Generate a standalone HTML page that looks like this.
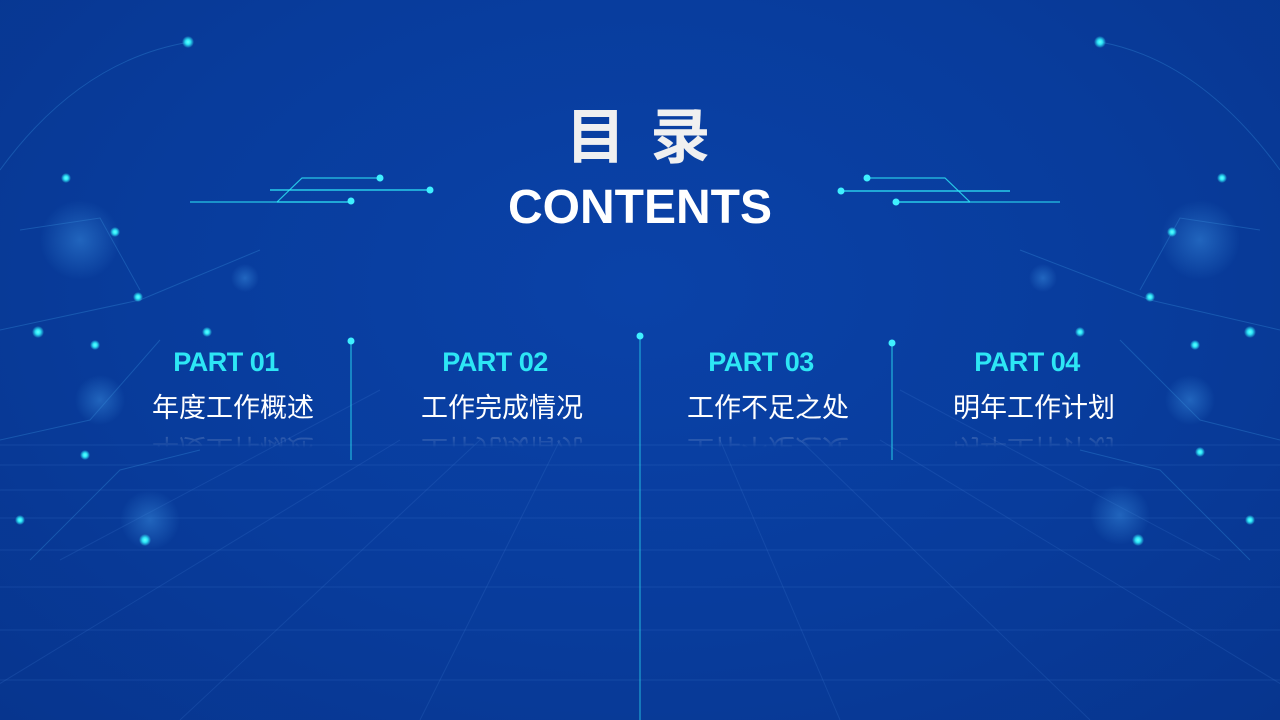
<!DOCTYPE html>
<html><head><meta charset="utf-8"><style>
html,body{margin:0;padding:0}
body{width:1280px;height:720px;overflow:hidden;position:relative;background:radial-gradient(ellipse at 50% 40%,#0a42a8 0%,#083c9c 55%,#07358e 100%);font-family:"Liberation Sans","Noto Sans CJK SC",sans-serif}
svg{position:absolute;left:0;top:0}
.t{position:absolute;color:#fff;font-weight:bold;text-align:center;width:400px;left:440px}
.col{position:absolute;width:260px;text-align:center}
.p{color:#2de6f5;font-weight:bold;font-size:27px;height:32px;line-height:32px;letter-spacing:-0.5px}
.c{color:#fff;font-size:27px;height:40px;line-height:40px;margin-top:10px}
.r{color:#fff;font-size:27px;height:20px;line-height:40px;overflow:hidden;transform:scaleY(-1);opacity:.3;-webkit-mask-image:linear-gradient(to top,rgba(0,0,0,1),rgba(0,0,0,0));mask-image:linear-gradient(to top,rgba(0,0,0,1),rgba(0,0,0,0));position:relative}
.r span{display:block;position:relative;top:-20px}
</style></head><body>
<svg width="1280" height="720">
<defs>
<radialGradient id="g"><stop offset="0" stop-color="#6ff"/><stop offset=".4" stop-color="#2ee8f8"/><stop offset="1" stop-color="#2ee8f8" stop-opacity="0"/></radialGradient>
<radialGradient id="b"><stop offset="0" stop-color="#3a8ee0" stop-opacity=".5"/><stop offset="1" stop-color="#3a8ee0" stop-opacity="0"/></radialGradient>
</defs>
<g stroke="#3f79d0" stroke-opacity=".22" stroke-width="1">
<line x1="0" y1="445" x2="1280" y2="445"/><line x1="0" y1="465" x2="1280" y2="465"/><line x1="0" y1="490" x2="1280" y2="490"/><line x1="0" y1="518" x2="1280" y2="518"/><line x1="0" y1="550" x2="1280" y2="550"/><line x1="0" y1="587" x2="1280" y2="587"/><line x1="0" y1="630" x2="1280" y2="630"/><line x1="0" y1="680" x2="1280" y2="680"/>
<line x1="560" y1="440" x2="420" y2="720"/><line x1="720" y1="440" x2="840" y2="720"/><line x1="480" y1="440" x2="180" y2="720"/><line x1="800" y1="440" x2="1090" y2="720"/><line x1="400" y1="440" x2="-60" y2="720"/><line x1="880" y1="440" x2="1340" y2="720"/>
<line x1="380" y1="390" x2="60" y2="560"/><line x1="900" y1="390" x2="1220" y2="560"/>
</g>
<g stroke="#3f9be6" stroke-opacity=".3" fill="none">
<path d="M0 170 Q80 60 190 42"/><path d="M1280 170 Q1200 60 1100 42"/>
<path d="M0 330 L140 300 L260 250"/><path d="M1280 330 L1150 300 L1020 250"/>
<path d="M20 230 L100 218 L140 290"/><path d="M1260 230 L1180 218 L1140 290"/>
<path d="M0 440 L90 420 L160 340"/><path d="M1280 440 L1200 420 L1120 340"/>
<path d="M30 560 L120 470 L200 450"/><path d="M1250 560 L1160 470 L1080 450"/>
</g>
<g>
<circle cx="150" cy="520" r="30" fill="url(#b)"/><circle cx="1120" cy="515" r="30" fill="url(#b)"/><circle cx="80" cy="240" r="40" fill="url(#b)"/><circle cx="1200" cy="240" r="40" fill="url(#b)"/><circle cx="245" cy="278" r="14" fill="url(#b)"/><circle cx="1043" cy="278" r="14" fill="url(#b)"/><circle cx="100" cy="400" r="25" fill="url(#b)"/><circle cx="1190" cy="400" r="25" fill="url(#b)"/>
</g>
<g fill="url(#g)">
<circle cx="188" cy="42" r="6"/><circle cx="1100" cy="42" r="6"/><circle cx="66" cy="178" r="5"/><circle cx="1222" cy="178" r="5"/><circle cx="115" cy="232" r="5"/><circle cx="1172" cy="232" r="5"/><circle cx="138" cy="297" r="5"/><circle cx="1150" cy="297" r="5"/><circle cx="207" cy="332" r="5"/><circle cx="1080" cy="332" r="5"/><circle cx="38" cy="332" r="6"/><circle cx="1250" cy="332" r="6"/><circle cx="95" cy="345" r="5"/><circle cx="1195" cy="345" r="5"/><circle cx="85" cy="455" r="5"/><circle cx="1200" cy="452" r="5"/><circle cx="20" cy="520" r="5"/><circle cx="1250" cy="520" r="5"/><circle cx="145" cy="540" r="6"/><circle cx="1138" cy="540" r="6"/>
</g>
<g stroke="#2ee8f8" stroke-width="1.2" fill="none">
<polyline points="380,178 302,178 277,202 190,202" stroke-opacity=".8"/><line x1="270" y1="190" x2="430" y2="190"/><line x1="277" y1="202" x2="351" y2="202"/>
<polyline points="867,178 945,178 970,202 1060,202" stroke-opacity=".8"/><line x1="841" y1="191" x2="1010" y2="191"/><line x1="896" y1="202" x2="970" y2="202"/>
<line x1="351" y1="341" x2="351" y2="460" stroke-opacity=".7"/><line x1="640" y1="336" x2="640" y2="720" stroke-opacity=".6"/><line x1="892" y1="343" x2="892" y2="460" stroke-opacity=".7"/>
</g>
<g fill="#3ff0ff">
<circle cx="380" cy="178" r="3.5"/><circle cx="430" cy="190" r="3.5"/><circle cx="351" cy="201" r="3.5"/>
<circle cx="867" cy="178" r="3.5"/><circle cx="841" cy="191" r="3.5"/><circle cx="896" cy="202" r="3.5"/>
<circle cx="351" cy="341" r="3.5"/><circle cx="640" cy="336" r="3.5"/><circle cx="892" cy="343" r="3.5"/>
</g>
</svg>
<div class="t" style="top:103px;font-size:60px;line-height:70px;color:#f0f0f0;letter-spacing:4px">目 录</div>
<div class="t" style="top:180px;font-size:48px;line-height:56px">CONTENTS</div>
<div class="col" style="left:103px;top:346px"><div class="p" style="margin-left:-14px">PART 01</div><div class="c">年度工作概述</div><div class="r"><span>年度工作概述</span></div></div>
<div class="col" style="left:372px;top:346px"><div class="p" style="margin-left:-14px">PART 02</div><div class="c">工作完成情况</div><div class="r"><span>工作完成情况</span></div></div>
<div class="col" style="left:638px;top:346px"><div class="p" style="margin-left:-14px">PART 03</div><div class="c">工作不足之处</div><div class="r"><span>工作不足之处</span></div></div>
<div class="col" style="left:904px;top:346px"><div class="p" style="margin-left:-14px">PART 04</div><div class="c">明年工作计划</div><div class="r"><span>明年工作计划</span></div></div>
</body></html>
